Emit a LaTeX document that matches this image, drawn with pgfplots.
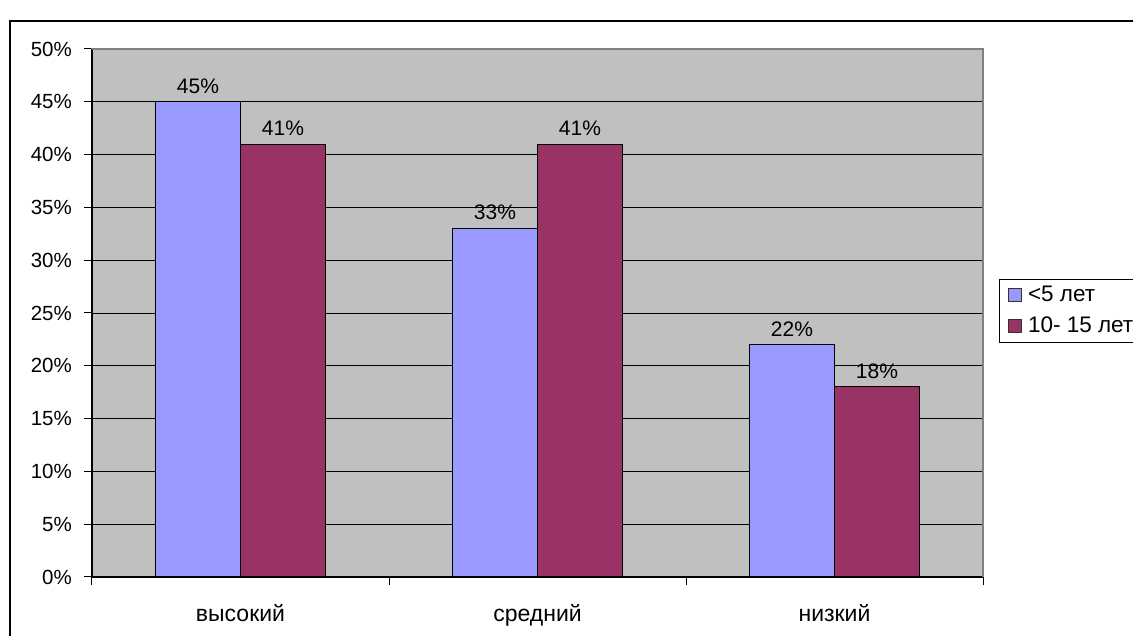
\documentclass[border=0pt]{standalone}
\usepackage{fontspec}
\setmainfont{Liberation Sans}
\usepackage{pgfplots}
\pgfplotsset{compat=1.18}
\definecolor{serA}{HTML}{9999FF}
\definecolor{serB}{HTML}{993366}
\definecolor{bg}{HTML}{C0C0C0}
\definecolor{frm}{HTML}{808080}
\begin{document}
\fontsize{21}{25}\selectfont
\begin{tikzpicture}[x=1pt,y=1pt]
\useasboundingbox (0,0) rectangle (1133,636);
\draw[line width=1.3pt] (10,615) rectangle (1150,-20);
\begin{axis}[
  at={(92pt,59pt)}, anchor=south west,
  scale only axis, width=891pt, height=528pt,
  xmin=-0.5, xmax=2.5, ymin=0, ymax=50,
  axis background/.style={fill=bg},
  axis line style={draw=frm, line width=1pt},
  ybar=0pt, bar width=85pt,
  xtick={0,1,2}, xticklabels={высокий,средний,низкий},
  major x tick style={draw=none},
  minor xtick={-0.5,0.5,1.5,2.5},
  minor x tick style={black, line width=1pt},
  minor tick length=8pt,
  ytick={0,5,...,50},
  yticklabel={\pgfmathprintnumber{\tick}\%},
  y tick style={black, line width=1pt},
  major tick length=8pt,
  tick align=outside,
  tick pos=left,
  ymajorgrids,
  grid style={black, line width=0.9pt},
  /pgf/number format/assume math mode=true,
  tick label style={font=\fontsize{20.5}{25}\selectfont},
  xticklabel style={yshift=-12pt, font=\fontsize{23}{27}\selectfont},
  yticklabel style={xshift=-5pt},
  nodes near coords={\pgfmathprintnumber{\pgfplotspointmeta}\%},
  nodes near coords style={font=\fontsize{21}{25}\selectfont, black, yshift=1pt},
  legend style={at={(1.0175,0.564)}, anchor=north west, draw=black, line width=0.9pt,
    font=\fontsize{22.5}{27}\selectfont, fill=white, inner xsep=4pt, inner ysep=4.5pt,
    row sep=8pt, cells={anchor=west},
    nodes={inner xsep=3pt}},
  legend image code/.code={\path (0pt,0pt) (21pt,0pt);
    \draw[#1, draw=black!80, line width=1pt] (5pt,-6.5pt) rectangle (18pt,6.5pt);},
  clip=false,
]
\addplot[fill=serA, draw=black, line width=1pt] coordinates {(0,45) (1,33) (2,22)};
\addplot[fill=serB, draw=black, line width=1pt] coordinates {(0,41) (1,41) (2,18)};
\legend{<5 лет, 10- 15 лет}
\draw[black, line width=1.3pt] (axis cs:-0.5,0) -- (axis cs:-0.5,50);
\draw[black, line width=1.3pt] (axis cs:-0.5,0) -- (axis cs:2.5,0);
\draw[frm, line width=1.3pt] (axis cs:-0.5,50) -- (axis cs:2.5,50) -- (axis cs:2.5,0);
\end{axis}
\end{tikzpicture}
\end{document}
